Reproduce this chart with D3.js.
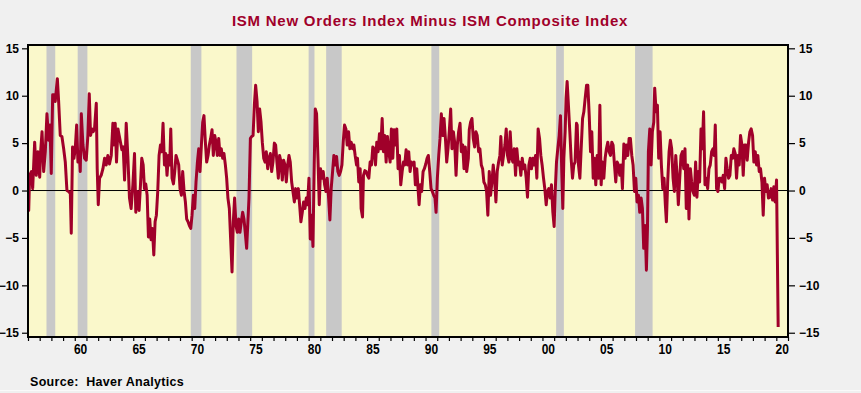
<!DOCTYPE html>
<html>
<head>
<meta charset="utf-8">
<script src="https://cdn.jsdelivr.net/npm/d3@7"></script>
<style>
  body { margin: 0; background: #f0f0f0; }
  svg { display: block; font-family: "Liberation Sans", Arial, sans-serif; }
</style>
</head>
<body>
<div id="chart"></div>
<script>
// global variables
var chart_width = 861;
var chart_height = 393;
var plot = { left: 28, right: 788, top: 45, bottom: 337 };

var title = 'ISM New Orders Index Minus ISM Composite Index';
var source = 'Source:  Haver Analytics';

// NBER recessions (decimal years)
var recessionStarts = [1957.58, 1960.25, 1969.92, 1973.83, 1980.0, 1981.5, 1990.5, 2001.17, 2007.92];
var recessionEnds   = [1958.33, 1961.08, 1970.83, 1975.17, 1980.5, 1982.83, 1991.17, 2001.83, 2009.42];

var yTicks = [-15, -10, -5, 0, 5, 10, 15];
var xLabelYears = [1960, 1965, 1970, 1975, 1980, 1985, 1990, 1995, 2000, 2005, 2010, 2015, 2020];

// [decimal year, new orders minus composite]
var spread = [
  [1956.00,-1.0],[1956.06,-2.1],[1956.14,1.6],[1956.29,2.0],[1956.40,0.2],[1956.57,5.1],[1956.71,1.6],[1956.85,4.1],
  [1957.00,1.4],[1957.08,4.1],[1957.20,6.2],[1957.34,2.0],[1957.48,4.1],[1957.62,8.1],[1957.77,5.3],[1957.88,6.9],[1957.99,1.8],
  [1958.11,10.1],[1958.22,10.1],[1958.33,9.4],[1958.51,11.8],[1958.62,9.4],[1958.76,5.8],[1958.90,5.7],
  [1959.05,4.4],[1959.19,3.0],[1959.33,0.0],[1959.47,-0.1],[1959.62,-0.3],[1959.70,-4.5],[1959.81,4.6],[1959.93,3.4],
  [1960.04,4.4],[1960.16,6.9],[1960.27,3.0],[1960.38,4.1],[1960.47,2.0],[1960.56,8.1],[1960.70,4.8],[1960.84,3.4],[1960.98,3.2],
  [1961.12,5.8],[1961.24,10.2],[1961.35,5.8],[1961.47,6.5],[1961.58,6.2],[1961.69,6.5],[1961.84,9.2],[1961.92,2.3],
  [1962.01,-1.5],[1962.12,1.3],[1962.26,1.6],[1962.41,2.3],[1962.55,3.4],[1962.69,2.7],[1962.83,3.7],[1962.97,2.8],
  [1963.12,3.7],[1963.26,7.1],[1963.34,4.8],[1963.46,7.1],[1963.57,3.0],[1963.69,6.5],[1963.80,5.8],[1963.91,5.1],
  [1964.03,4.3],[1964.14,4.6],[1964.26,1.1],[1964.40,7.1],[1964.54,3.6],[1964.68,-0.8],[1964.82,-1.9],[1964.97,0.6],
  [1965.11,3.9],[1965.22,-2.3],[1965.34,-0.1],[1965.39,-1.0],[1965.50,-2.1],[1965.62,0.6],[1965.73,3.4],[1965.85,2.7],[1965.96,0.2],
  [1966.07,0.7],[1966.19,-0.5],[1966.30,-4.9],[1966.41,-3.0],[1966.53,-5.2],[1966.64,-4.0],[1966.76,-6.8],[1966.87,-3.3],[1966.98,-2.6],
  [1967.10,0.0],[1967.21,3.7],[1967.33,4.8],[1967.44,4.1],[1967.55,7.1],[1967.67,2.7],[1967.78,3.9],[1967.89,1.6],
  [1968.01,3.7],[1968.12,2.7],[1968.21,6.5],[1968.32,1.3],[1968.44,0.7],[1968.55,2.0],[1968.66,3.7],[1968.78,3.2],[1968.89,2.7],
  [1969.00,0.2],[1969.12,-0.5],[1969.23,2.0],[1969.35,-0.1],[1969.46,-1.2],[1969.57,-3.0],[1969.69,-3.3],[1969.80,-3.7],[1969.92,-4.0],
  [1970.03,-2.6],[1970.14,-0.5],[1970.26,-1.9],[1970.37,0.9],[1970.49,3.0],[1970.60,4.4],[1970.71,2.0],[1970.83,4.8],[1970.94,7.2],
  [1971.05,7.9],[1971.17,5.1],[1971.28,3.0],[1971.40,3.7],[1971.51,4.8],[1971.62,5.5],[1971.74,6.4],[1971.85,3.7],[1971.97,5.8],
  [1972.08,5.1],[1972.19,3.7],[1972.31,5.5],[1972.42,3.7],[1972.53,4.4],[1972.65,3.4],[1972.76,3.9],[1972.88,2.7],[1972.99,1.3],
  [1973.10,-0.8],[1973.22,-1.9],[1973.33,-5.1],[1973.45,-8.6],[1973.56,-3.3],[1973.67,-0.8],[1973.79,-3.7],[1973.90,-4.4],
  [1974.02,-3.0],[1974.13,-4.4],[1974.24,-3.3],[1974.36,-2.3],[1974.47,-3.0],[1974.58,-4.4],[1974.70,-6.1],[1974.90,-0.8],
  [1975.02,5.5],[1975.13,5.7],[1975.25,5.8],[1975.36,9.0],[1975.47,11.1],[1975.59,9.4],[1975.70,6.2],[1975.81,8.6],[1975.93,7.2],
  [1976.04,5.1],[1976.16,3.4],[1976.27,3.0],[1976.38,4.1],[1976.50,2.3],[1976.61,3.4],[1976.73,3.9],[1976.84,2.0],[1976.95,3.0],
  [1977.07,5.0],[1977.18,4.8],[1977.29,3.0],[1977.41,1.3],[1977.52,3.7],[1977.64,3.0],[1977.75,1.1],[1977.86,3.2],[1977.98,2.7],
  [1978.09,0.9],[1978.21,2.7],[1978.32,3.7],[1978.43,3.0],[1978.55,0.9],[1978.66,-0.1],[1978.78,-1.2],[1978.89,0.2],
  [1979.00,-0.8],[1979.12,0.2],[1979.23,-1.5],[1979.34,-3.3],[1979.46,-2.3],[1979.57,-1.2],[1979.69,-1.9],[1979.80,-0.8],[1979.91,-1.5],
  [1980.03,1.3],[1980.14,-5.1],[1980.26,-2.6],[1980.37,-5.9],[1980.48,2.7],[1980.57,8.6],[1980.68,8.1],[1980.80,3.4],[1980.91,-1.5],
  [1981.02,2.3],[1981.14,1.3],[1981.25,2.0],[1981.37,0.6],[1981.48,-0.1],[1981.59,1.3],[1981.71,-0.8],[1981.82,-3.1],[1981.93,0.2],
  [1982.05,2.0],[1982.16,3.7],[1982.28,2.7],[1982.39,3.6],[1982.50,2.0],[1982.62,1.6],[1982.73,2.0],[1982.85,2.7],[1982.96,5.1],
  [1983.07,6.9],[1983.19,6.5],[1983.30,4.8],[1983.42,6.2],[1983.53,4.4],[1983.64,5.1],[1983.76,4.4],[1983.87,4.8],[1983.98,3.7],
  [1984.10,2.7],[1984.18,3.4],[1984.29,0.9],[1984.41,2.3],[1984.49,-1.9],[1984.61,-2.8],[1984.69,1.6],[1984.81,2.1],[1984.92,2.0],
  [1985.03,1.6],[1985.15,1.3],[1985.26,3.0],[1985.38,2.7],[1985.49,4.6],[1985.60,4.4],[1985.72,2.7],[1985.83,5.1],[1985.94,4.1],
  [1986.06,6.0],[1986.17,4.4],[1986.29,7.6],[1986.40,4.1],[1986.51,5.8],[1986.63,3.0],[1986.74,5.7],[1986.86,4.1],[1986.97,3.0],
  [1987.08,6.5],[1987.20,3.4],[1987.31,6.4],[1987.43,4.8],[1987.54,6.5],[1987.65,2.3],[1987.77,3.7],[1987.88,0.6],
  [1988.00,2.0],[1988.11,3.0],[1988.22,2.7],[1988.34,4.3],[1988.45,2.7],[1988.56,4.1],[1988.68,2.0],[1988.79,3.0],[1988.91,2.7],
  [1989.02,3.0],[1989.13,0.6],[1989.25,2.3],[1989.36,0.2],[1989.45,-1.5],[1989.56,0.6],[1989.67,-0.1],[1989.79,2.0],[1989.90,2.3],
  [1990.02,2.8],[1990.13,3.4],[1990.24,3.7],[1990.36,2.0],[1990.47,0.2],[1990.58,-0.1],[1990.70,-0.5],[1990.81,-0.8],[1990.90,-2.3],
  [1991.01,1.3],[1991.13,3.7],[1991.24,5.5],[1991.35,8.1],[1991.47,5.8],[1991.58,7.6],[1991.70,5.5],[1991.81,3.0],[1991.92,4.4],
  [1992.04,6.4],[1992.15,8.6],[1992.26,4.4],[1992.38,6.2],[1992.49,5.1],[1992.61,1.6],[1992.72,4.8],[1992.83,6.2],[1992.95,7.1],
  [1993.06,4.1],[1993.18,4.8],[1993.29,2.3],[1993.40,4.6],[1993.52,2.0],[1993.66,3.4],[1993.74,6.4],[1993.85,7.2],[1993.97,7.6],
  [1994.08,5.5],[1994.20,4.6],[1994.31,6.2],[1994.42,5.8],[1994.54,4.1],[1994.65,4.4],[1994.77,2.7],[1994.88,2.3],[1994.99,0.9],
  [1995.11,0.6],[1995.22,-0.1],[1995.33,-2.6],[1995.45,2.0],[1995.56,-0.5],[1995.68,0.9],[1995.79,2.7],[1995.90,1.3],
  [1996.02,-1.2],[1996.13,2.0],[1996.25,3.0],[1996.36,3.7],[1996.44,5.7],[1996.56,2.7],[1996.67,3.7],[1996.79,4.8],[1996.90,6.5],
  [1997.01,3.7],[1997.13,3.0],[1997.24,6.2],[1997.36,3.4],[1997.47,3.0],[1997.58,4.4],[1997.70,1.6],[1997.81,4.4],[1997.93,2.7],
  [1998.04,3.0],[1998.15,1.6],[1998.27,3.4],[1998.38,2.3],[1998.49,2.7],[1998.61,1.3],[1998.72,-0.7],[1998.84,2.7],[1998.95,3.4],
  [1999.06,2.3],[1999.18,3.4],[1999.29,2.7],[1999.41,3.7],[1999.52,1.3],[1999.63,6.5],[1999.75,5.5],[1999.86,3.7],[1999.97,2.7],
  [2000.09,1.3],[2000.20,0.2],[2000.32,-1.5],[2000.43,-0.1],[2000.54,0.2],[2000.66,-0.8],[2000.77,0.6],[2000.89,-2.3],
  [2001.00,-3.8],[2001.09,-0.1],[2001.20,3.0],[2001.31,4.4],[2001.43,5.8],[2001.54,7.9],[2001.65,2.0],[2001.74,-1.9],[2001.83,3.4],[2001.94,6.2],
  [2002.02,9.7],[2002.11,11.5],[2002.22,9.0],[2002.34,6.2],[2002.45,3.4],[2002.57,1.3],[2002.68,2.7],[2002.79,3.0],[2002.91,7.1],[2002.97,6.9],
  [2003.08,2.7],[2003.20,1.3],[2003.31,4.4],[2003.43,7.6],[2003.54,8.3],[2003.65,9.7],[2003.77,11.1],[2003.88,11.1],
  [2004.00,7.9],[2004.11,4.1],[2004.22,6.2],[2004.34,1.3],[2004.45,3.4],[2004.56,0.6],[2004.68,3.7],[2004.79,1.3],[2004.91,9.0],
  [2005.02,0.6],[2005.13,3.0],[2005.25,1.3],[2005.36,3.4],[2005.47,4.4],[2005.59,5.1],[2005.70,4.1],[2005.82,3.7],[2005.93,5.1],
  [2006.04,4.8],[2006.16,2.7],[2006.27,0.9],[2006.39,3.0],[2006.50,2.7],[2006.61,1.6],[2006.73,2.7],[2006.84,0.2],[2006.96,4.9],
  [2007.07,3.4],[2007.18,4.8],[2007.30,3.7],[2007.41,5.5],[2007.52,5.5],[2007.64,3.7],[2007.75,2.7],[2007.87,-0.1],[2007.98,1.3],
  [2008.09,-1.2],[2008.21,-0.5],[2008.32,-2.3],[2008.44,-0.8],[2008.55,-1.9],[2008.66,-6.1],[2008.78,-3.7],[2008.89,-8.4],[2008.98,-4.0],
  [2009.06,4.1],[2009.18,6.5],[2009.29,2.7],[2009.40,6.2],[2009.52,7.2],[2009.60,10.8],[2009.72,8.3],[2009.83,9.0],[2009.94,3.4],
  [2010.06,6.2],[2010.17,2.7],[2010.29,0.2],[2010.40,1.3],[2010.51,-1.5],[2010.60,-3.3],[2010.71,0.9],[2010.83,4.1],[2010.94,5.3],
  [2011.05,4.4],[2011.17,1.3],[2011.28,-0.1],[2011.40,3.7],[2011.51,1.6],[2011.62,-1.5],[2011.74,1.3],[2011.85,3.7],[2011.97,4.1],
  [2012.08,2.3],[2012.19,4.4],[2012.30,-1.9],[2012.42,2.7],[2012.53,-3.0],[2012.65,2.3],[2012.76,0.9],[2012.87,-0.1],[2012.99,-0.5],
  [2013.10,3.0],[2013.21,-0.7],[2013.33,2.0],[2013.44,0.9],[2013.56,6.5],[2013.67,4.4],[2013.78,8.3],[2013.90,0.6],
  [2014.01,1.3],[2014.13,0.2],[2014.24,2.3],[2014.35,2.7],[2014.47,4.1],[2014.58,4.4],[2014.69,3.7],[2014.78,6.9],[2014.89,0.2],
  [2015.01,-0.1],[2015.12,1.3],[2015.24,1.3],[2015.35,0.9],[2015.46,1.6],[2015.58,0.2],[2015.69,3.4],[2015.80,2.3],[2015.92,1.3],
  [2016.03,1.6],[2016.15,3.7],[2016.26,3.4],[2016.37,4.4],[2016.49,3.9],[2016.60,1.3],[2016.72,3.7],[2016.83,2.7],[2016.94,5.8],
  [2017.06,4.8],[2017.17,1.6],[2017.29,4.8],[2017.40,4.8],[2017.51,3.2],[2017.63,5.1],[2017.74,6.2],[2017.85,6.5],[2017.97,5.8],
  [2018.08,3.0],[2018.20,4.1],[2018.31,2.7],[2018.42,3.7],[2018.54,2.0],[2018.65,2.3],[2018.77,0.9],[2018.88,-2.6],[2018.99,1.3],
  [2019.11,-0.1],[2019.22,0.6],[2019.33,-0.8],[2019.45,-0.7],[2019.56,0.2],[2019.68,-1.0],[2019.79,0.4],[2019.90,-1.2],
  [2020.02,1.1],[2020.09,-6.8],[2020.16,-14.4]
];

var svg = d3.select('#chart')
  .append('svg')
  .attr('width', chart_width)
  .attr('height', chart_height);

svg.append('rect')
  .attr('width', chart_width)
  .attr('height', chart_height)
  .attr('fill', '#f0f0f0');

// scales
var x_scale = d3.scaleLinear()
  .domain([1956, 2021])
  .range([plot.left, plot.right]);

var y_scale = d3.scaleLinear()
  .domain([-15.45, 15.35])
  .range([plot.bottom, plot.top]);

// plot background
svg.append('rect')
  .attr('x', plot.left)
  .attr('y', plot.top)
  .attr('width', plot.right - plot.left)
  .attr('height', plot.bottom - plot.top)
  .attr('fill', '#faf8cb');

// recession shading
svg.append('g')
  .selectAll('rect')
  .data(recessionStarts)
  .enter()
  .append('rect')
  .attr('x', function(d) { return x_scale(d); })
  .attr('width', function(d, i) { return x_scale(recessionEnds[i]) - x_scale(d); })
  .attr('y', plot.top)
  .attr('height', plot.bottom - plot.top)
  .attr('fill', '#c8c8c8');

// zero line
svg.append('line')
  .attr('x1', plot.left)
  .attr('x2', plot.right)
  .attr('y1', y_scale(0))
  .attr('y2', y_scale(0))
  .attr('stroke', '#000')
  .attr('stroke-width', 1);

svg.append('clipPath')
  .attr('id', 'clip')
  .append('rect')
  .attr('x', plot.left)
  .attr('y', plot.top)
  .attr('width', plot.right - plot.left)
  .attr('height', plot.bottom - plot.top);

var line = d3.line()
  .x(function(d) { return x_scale(d[0]); })
  .y(function(d) { return y_scale(d[1]); });

svg.append('path')
  .datum(spread)
  .attr('clip-path', 'url(#clip)')
  .attr('fill', 'none')
  .attr('stroke', '#a0002a')
  .attr('stroke-width', 3)
  .attr('stroke-linejoin', 'round')
  .attr('d', line);

// frame
svg.append('rect')
  .attr('x', plot.left)
  .attr('y', plot.top)
  .attr('width', plot.right - plot.left)
  .attr('height', plot.bottom - plot.top)
  .attr('fill', 'none')
  .attr('stroke', '#000')
  .attr('stroke-width', 2);

// y axes, left and right
var y_left = d3.axisLeft(y_scale).tickValues(yTicks).tickSize(6).tickPadding(3);
var y_right = d3.axisRight(y_scale).tickValues(yTicks).tickSize(7).tickPadding(4);

svg.append('g')
  .attr('class', 'axis')
  .attr('transform', 'translate(' + plot.left + ',0)')
  .call(y_left);

svg.append('g')
  .attr('class', 'axis')
  .attr('transform', 'translate(' + plot.right + ',0)')
  .call(y_right);

// x axis: yearly ticks, labels centred in the year
var x_axis = d3.axisBottom(x_scale)
  .tickValues(d3.range(1956, 2022))
  .tickSize(4)
  .tickFormat('');

svg.append('g')
  .attr('class', 'axis')
  .attr('transform', 'translate(0,' + plot.bottom + ')')
  .call(x_axis);

svg.append('g')
  .selectAll('text')
  .data(xLabelYears)
  .enter()
  .append('text')
  .attr('class', 'xlab')
  .attr('transform', function(d) {
    return 'translate(' + x_scale(d + 0.5) + ',354) scale(1,1.25)';
  })
  .attr('text-anchor', 'middle')
  .text(function(d) { return d3.format('02d')(d % 100); });

svg.selectAll('.axis path').remove();
svg.selectAll('.axis line').attr('stroke', '#000').attr('stroke-width', 1.2);
svg.selectAll('.axis text, .xlab')
  .attr('fill', '#000')
  .style('font-size', '12px')
  .style('font-weight', 'bold')
  .style('font-family', '"Liberation Sans", Arial, sans-serif');

// title and source
svg.append('text')
  .attr('x', 430)
  .attr('y', 26)
  .attr('text-anchor', 'middle')
  .attr('fill', '#a0002a')
  .style('font-size', '15px')
  .style('letter-spacing', '0.75px')
  .style('font-weight', 'bold')
  .text(title);

svg.append('text')
  .attr('x', 30)
  .attr('y', 386)
  .attr('fill', '#000')
  .style('font-size', '12.5px')
  .style('letter-spacing', '0.3px')
  .style('white-space', 'pre')
  .style('font-weight', 'bold')
  .text(source);

svg.append('line')
  .attr('x1', 0)
  .attr('x2', chart_width)
  .attr('y1', 390.5)
  .attr('y2', 390.5)
  .attr('stroke', '#fafafa')
  .attr('stroke-width', 1);
</script>
</body>
</html>
